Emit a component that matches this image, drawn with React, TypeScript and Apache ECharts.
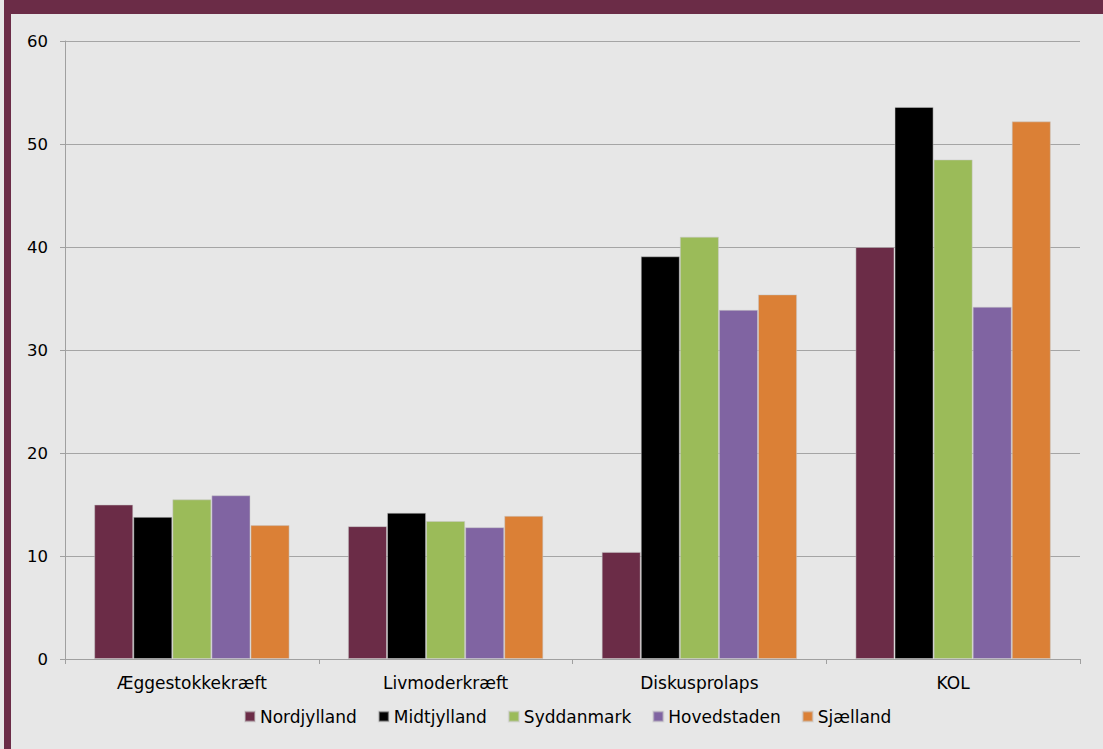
import React, { useEffect, useRef } from "react";
import * as echarts from "echarts";

const categories = ["Æggestokkekræft", "Livmoderkræft", "Diskusprolaps", "KOL"];
const seriesNames = ["Nordjylland", "Midtjylland", "Syddanmark", "Hovedstaden", "Sjælland"];
const nordjylland = [15.0, 12.9, 10.4, 40.0];
const midtjylland = [13.8, 14.2, 39.1, 53.6];
const syddanmark = [15.5, 13.4, 41.0, 48.5];
const hovedstaden = [15.9, 12.8, 33.9, 34.2];
const sjaelland = [13.0, 13.9, 35.4, 52.2];
const colors = ["#6B2C47", "#000000", "#9BBB59", "#8064A2", "#DB8036"];

export default function App() {
  const ref = useRef<HTMLDivElement>(null);
  useEffect(() => {
    if (!ref.current) return;
    const chart = echarts.init(ref.current, undefined, { renderer: "svg" });
    const values = [nordjylland, midtjylland, syddanmark, hovedstaden, sjaelland];
    const font = "'DejaVu Sans', Verdana, sans-serif";
    chart.setOption({
      animation: false,
      backgroundColor: "#E7E7E7",
      textStyle: { fontFamily: font },
      graphic: [
        { type: "rect", shape: { x: 4, y: 0, width: 1099, height: 14 }, style: { fill: "#6B2C47" }, silent: true },
        { type: "rect", shape: { x: 4, y: 0, width: 7, height: 749 }, style: { fill: "#6B2C47" }, silent: true },
      ],
      grid: { left: 65, right: 23, top: 41, bottom: 90, containLabel: false },
      legend: {
        bottom: 19,
        left: 239,
        itemWidth: 10,
        itemHeight: 10,
        itemGap: 21,
        icon: "rect",
        textStyle: { fontFamily: font, fontSize: 17, color: "#000" },
        data: seriesNames,
      },
      xAxis: {
        type: "category",
        data: categories,
        axisLine: { show: true, lineStyle: { color: "#A0A0A0", width: 1 } },
        axisTick: { show: true, length: 5, lineStyle: { color: "#A0A0A0" } },
        axisLabel: { fontFamily: font, fontSize: 17, color: "#000", margin: 15 },
      },
      yAxis: {
        type: "value",
        min: 0,
        max: 60,
        interval: 10,
        axisLine: { show: true, lineStyle: { color: "#A0A0A0", width: 1 } },
        axisTick: { show: true, length: 5, lineStyle: { color: "#A0A0A0" } },
        axisLabel: { fontFamily: font, fontSize: 16.5, color: "#000", margin: 17 },
        splitLine: { show: true, lineStyle: { color: "#A5A5A5", width: 1 } },
      },
      series: seriesNames.map((name, i) => ({
        name,
        type: "bar",
        data: values[i],
        barGap: "0%",
        barCategoryGap: "23%",
        itemStyle: { color: colors[i], borderColor: "rgba(200,200,200,0.5)", borderWidth: 1 },
      })),
    });
    return () => chart.dispose();
  }, []);
  return (
    <div
      ref={ref}
      style={{ position: "fixed", left: 0, top: 0, width: 1103, height: 749 }}
    />
  );
}
